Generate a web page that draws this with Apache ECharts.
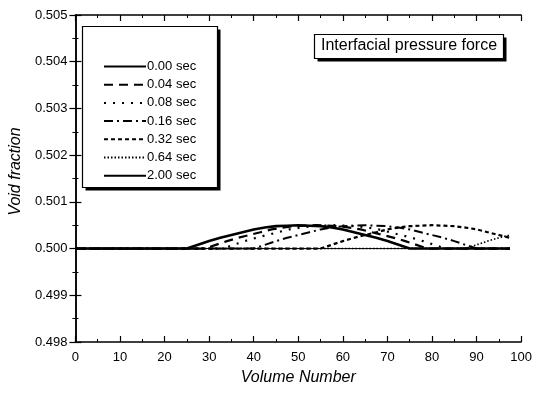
<!DOCTYPE html>
<html>
<head>
<meta charset="utf-8">
<script src="https://cdn.jsdelivr.net/npm/echarts@6/dist/echarts.min.js"></script>
<style>html,body{margin:0;padding:0;background:#fff}#c{width:535px;height:393px}</style>
</head>
<body>
<div id="c"></div>
<script>
// ---- data ([volume number, void fraction]) ----
const seriesNames = ['0.00 sec','0.04 sec','0.08 sec','0.16 sec','0.32 sec','0.64 sec','2.00 sec'];
const xTicks = [0,10,20,30,40,50,60,70,80,90,100];
const yTicks = [0.498,0.499,0.500,0.501,0.502,0.503,0.504,0.505];

const t000 = [[0,.5],[25,.5],[27.5,.50008],[30,.50016],[32.5,.50023],[35,.50029],[37.5,.50035],[40,.50041],[42.5,.50045],[45,.50048],[47.5,.50049],[50,.5005],[52.5,.50049],[55,.50048],[57.5,.50045],[60,.50041],[62.5,.50035],[65,.50029],[67.5,.50023],[70,.50016],[72.5,.50008],[75,.5],[97.5,.5]];
const t004 = [[0,.5],[29,.5],[31.5,.50008],[34,.50016],[36.5,.50023],[39,.50029],[41.5,.50035],[44,.50041],[46.5,.50045],[49,.50048],[51.5,.50049],[54,.5005],[56.5,.50049],[59,.50048],[61.5,.50045],[64,.50041],[66.5,.50035],[69,.50029],[71.5,.50023],[74,.50016],[76.5,.50008],[79,.5],[97.5,.5]];
const t008 = [[0,.5],[33,.5],[35.5,.50008],[38,.50016],[40.5,.50023],[43,.50029],[45.5,.50035],[48,.50041],[50.5,.50045],[53,.50048],[55.5,.50049],[58,.5005],[60.5,.50049],[63,.50048],[65.5,.50045],[68,.50041],[70.5,.50035],[73,.50029],[75.5,.50023],[78,.50016],[80.5,.50008],[83,.5],[97.5,.5]];
const t016 = [[0,.5],[40,.5],[42.5,.50008],[45,.50016],[47.5,.50023],[50,.50029],[52.5,.50035],[55,.50041],[57.5,.50045],[60,.50048],[62.5,.50049],[65,.5005],[67.5,.50049],[70,.50048],[72.5,.50045],[75,.50041],[77.5,.50035],[80,.50029],[82.5,.50023],[85,.50016],[87.5,.50008],[90,.5],[97.5,.5]];
const t032 = [[0,.5],[55,.5],[57.5,.50008],[60,.50016],[62.5,.50023],[65,.50029],[67.5,.50035],[70,.50041],[72.5,.50045],[75,.50048],[77.5,.50049],[80,.5005],[82.5,.50049],[85,.50048],[87.5,.50045],[90,.50041],[92.5,.50035],[95,.50029],[97.5,.50023]];
const t064 = [[0,.5],[87.5,.5],[90,.50008],[92.5,.50016],[95,.50023],[97.5,.50029]];
const t200 = [[0,.5],[97.5,.5]];

const chart = echarts.init(document.getElementById('c'), null, {renderer:'canvas'});
const FONT = 'Liberation Sans';
const styles = [
  {width:2.6, type:'solid'},
  {width:2.2, type:[9,6]},
  {width:2.2, type:[2,7]},
  {width:2, type:[9,4,2,4]},
  {width:2.2, type:[4,3]},
  {width:1.6, type:[1.5,2]},
  {width:1, type:'solid'}
];
const dataSets = [t000,t004,t008,t016,t032,t064,t200];
const series = dataSets.map((d,i)=>({
  name: seriesNames[i], type:'line', data:d, symbol:'none', showSymbol:false, animation:false,
  lineStyle:{color:'#000', width:styles[i].width, type:styles[i].type},
  itemStyle:{color:'#000'}
}));

const axisCommon = {
  axisLine:{show:true, lineStyle:{color:'#000', width:1.5}},
  axisTick:{show:true, inside:true, length:6, lineStyle:{color:'#000', width:1.2}},
  minorTick:{show:true, splitNumber:2, length:3, lineStyle:{color:'#000', width:1}},
  splitLine:{show:false}
};

function shadowBox(x,y,w,h){
  return [
    {type:'rect', z:5, silent:true, shape:{x:x+3,y:y+3,width:w,height:h}, style:{fill:'#000'}},
    {type:'rect', z:6, silent:true, shape:{x:x,y:y,width:w,height:h}, style:{fill:'#fff', stroke:'#000', lineWidth:1.2}}
  ];
}

chart.setOption({
  backgroundColor:'#fff',
  animation:false,
  grid:{left:75, right:13, top:15, bottom:51},
  graphic: shadowBox(82.5,26.5,135,161).concat(shadowBox(314.5,34.5,189,24)),
  title:{
    text:'Interfacial pressure force', left:321, top:38, padding:0, z:10,
    textStyle:{fontFamily:FONT, fontSize:16, fontWeight:'normal', color:'#000'}
  },
  legend:{
    orient:'vertical', left:83, top:26, z:10,
    padding:[34,20,6,20], itemWidth:42, itemHeight:14, itemGap:5.2,
    itemStyle:{opacity:0, borderWidth:0},
    textStyle:{fontFamily:FONT, fontSize:13, color:'#000', padding:[0,0,0,-4]},
    data:seriesNames
  },
  xAxis:[
    Object.assign({type:'value', min:0, max:100, interval:10, position:'bottom',
      name:'Volume Number', nameLocation:'middle', nameGap:28,
      nameTextStyle:{fontFamily:FONT, fontSize:16, fontStyle:'italic', color:'#000'},
      axisLabel:{fontFamily:FONT, fontSize:13, color:'#000', margin:9,
        formatter:v=>xTicks.includes(v)?String(v):''}}, axisCommon),
    Object.assign({type:'value', min:0, max:100, interval:10, position:'top',
      axisLabel:{show:false}}, axisCommon)
  ],
  yAxis:[
    Object.assign({type:'value', min:0.498, max:0.505, interval:0.001, position:'left',
      name:'Void fraction', nameLocation:'middle', nameGap:49, nameRotate:90,
      nameTextStyle:{fontFamily:FONT, fontSize:16, fontStyle:'italic', color:'#000', padding:[0,0,0,14]},
      axisLabel:{fontFamily:FONT, fontSize:13, color:'#000', margin:8,
        formatter:v=>{const t=yTicks.find(k=>Math.abs(k-v)<1e-9);return t!==undefined?t.toFixed(3):'';}}}, axisCommon),
    Object.assign({type:'value', min:0.498, max:0.505, interval:0.001, position:'right',
      axisLabel:{show:false}}, axisCommon)
  ],
  series: series
});
</script>
</body>
</html>
